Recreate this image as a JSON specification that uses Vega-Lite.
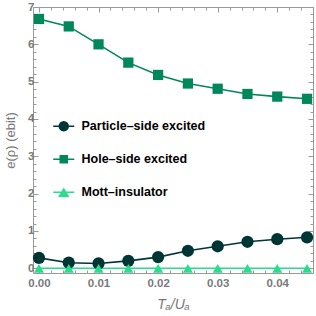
{
  "$schema": "https://vega.github.io/schema/vega-lite/v6.json",
  "width": 280,
  "height": 266,
  "autosize": {"type": "none"},
  "padding": {"left": 33, "top": 7, "right": 3, "bottom": 43},
  "background": "white",
  "config": {
    "view": {"stroke": "#9a9a9a", "strokeWidth": 1},
    "axis": {
      "grid": false,
      "domain": false,
      "tickColor": "#9a9a9a",
      "tickWidth": 1,
      "labelFont": "Liberation Sans",
      "labelFontWeight": "bold",
      "labelFontSize": 11.5,
      "labelColor": "#7a7a7a",
      "titleFont": "Liberation Sans",
      "titleFontWeight": "normal",
      "titleFontSize": 13,
      "titleColor": "#7a7a7a"
    }
  },
  "data": {
    "values": [
      {"series": "Particle–side excited", "x": 0.000, "y": 0.28},
      {"series": "Particle–side excited", "x": 0.005, "y": 0.15},
      {"series": "Particle–side excited", "x": 0.010, "y": 0.13},
      {"series": "Particle–side excited", "x": 0.015, "y": 0.20},
      {"series": "Particle–side excited", "x": 0.020, "y": 0.30},
      {"series": "Particle–side excited", "x": 0.025, "y": 0.47},
      {"series": "Particle–side excited", "x": 0.030, "y": 0.59},
      {"series": "Particle–side excited", "x": 0.035, "y": 0.71},
      {"series": "Particle–side excited", "x": 0.040, "y": 0.78},
      {"series": "Particle–side excited", "x": 0.045, "y": 0.83},
      {"series": "Hole–side excited", "x": 0.000, "y": 6.68},
      {"series": "Hole–side excited", "x": 0.005, "y": 6.48},
      {"series": "Hole–side excited", "x": 0.010, "y": 6.00},
      {"series": "Hole–side excited", "x": 0.015, "y": 5.51},
      {"series": "Hole–side excited", "x": 0.020, "y": 5.18},
      {"series": "Hole–side excited", "x": 0.025, "y": 4.95},
      {"series": "Hole–side excited", "x": 0.030, "y": 4.81},
      {"series": "Hole–side excited", "x": 0.035, "y": 4.67},
      {"series": "Hole–side excited", "x": 0.040, "y": 4.60},
      {"series": "Hole–side excited", "x": 0.045, "y": 4.54},
      {"series": "Mott–insulator", "x": 0.000, "y": 0},
      {"series": "Mott–insulator", "x": 0.005, "y": 0},
      {"series": "Mott–insulator", "x": 0.010, "y": 0},
      {"series": "Mott–insulator", "x": 0.015, "y": 0},
      {"series": "Mott–insulator", "x": 0.020, "y": 0},
      {"series": "Mott–insulator", "x": 0.025, "y": 0},
      {"series": "Mott–insulator", "x": 0.030, "y": 0},
      {"series": "Mott–insulator", "x": 0.035, "y": 0},
      {"series": "Mott–insulator", "x": 0.040, "y": 0},
      {"series": "Mott–insulator", "x": 0.045, "y": 0}
    ]
  },
  "resolve": {"axis": {"x": "independent", "y": "independent"}},
  "layer": [
    {
      "mark": {"type": "point", "filled": true, "opacity": 0, "size": 100},
      "encoding": {
        "x": {"field": "x", "type": "quantitative", "axis": null, "scale": {"domain": [-0.001, 0.046], "nice": false, "zero": false}},
        "y": {"field": "y", "type": "quantitative", "axis": null, "scale": {"domain": [-0.126, 7], "nice": false, "zero": false}},
        "color": {
          "field": "series", "type": "nominal",
          "scale": {"domain": ["Particle–side excited", "Hole–side excited", "Mott–insulator"], "range": ["#003535", "#00875a", "#2bdc8c"]},
          "legend": {
            "orient": "none",
            "legendX": 24.5,
            "legendY": 113,
            "title": null,
            "padding": 0,
            "rowPadding": 20,
            "symbolSize": 100,
            "symbolStrokeWidth": 0,
            "symbolOpacity": 1,
            "labelOffset": 11.5,
            "labelFont": "Liberation Sans",
            "labelFontWeight": "bold",
            "labelFontSize": 12.5,
            "labelColor": "#000000",
            "labelLimit": 300
          }
        },
        "shape": {
          "field": "series", "type": "nominal",
          "scale": {
            "domain": ["Particle–side excited", "Hole–side excited", "Mott–insulator"],
            "range": [
              "M-2.1,-0.17 L2.1,-0.17 L2.1,0.17 L-2.1,0.17 Z M1.05,0 L0.97,0.4018 L0.7425,0.7425 L0.4018,0.97 L0,1.05 L-0.4018,0.97 L-0.7425,0.7425 L-0.97,0.4018 L-1.05,0 L-0.97,-0.4018 L-0.7425,-0.7425 L-0.4018,-0.97 L0,-1.05 L0.4018,-0.97 L0.7425,-0.7425 L0.97,-0.4018 Z",
              "M-2.1,-0.17 L2.1,-0.17 L2.1,0.17 L-2.1,0.17 Z M-0.85,-0.85 L0.85,-0.85 L0.85,0.85 L-0.85,0.85 Z",
              "M-2.1,-0.17 L2.1,-0.17 L2.1,0.17 L-2.1,0.17 Z M0,-0.95 L1.15,0.95 L-1.15,0.95 Z"
            ]
          },
          "legend": {
            "orient": "none",
            "legendX": 24.5,
            "legendY": 113,
            "title": null,
            "padding": 0,
            "rowPadding": 20,
            "symbolSize": 100,
            "symbolStrokeWidth": 0,
            "symbolOpacity": 1,
            "labelOffset": 11.5,
            "labelFont": "Liberation Sans",
            "labelFontWeight": "bold",
            "labelFontSize": 12.5,
            "labelColor": "#000000",
            "labelLimit": 300
          }
        }
      }
    },
    {
      "mark": {"type": "line", "strokeWidth": 1.6},
      "encoding": {
        "x": {
          "field": "x", "type": "quantitative",
          "axis": {
            "orient": "bottom",
            "values": [0, 0.002, 0.004, 0.006, 0.008, 0.01, 0.012, 0.014, 0.016, 0.018, 0.02, 0.022, 0.024, 0.026, 0.028, 0.03, 0.032, 0.034, 0.036, 0.038, 0.04, 0.042, 0.044, 0.046],
            "labelExpr": "abs(datum.value*100 - round(datum.value*100)) < 1e-6 ? format(datum.value, '.2f') : ''",
            "tickSize": {"condition": {"test": "abs(datum.value*100 - round(datum.value*100)) < 1e-6", "value": -5}, "value": -3},
            "labelPadding": 9,
            "title": "Tₐ/Uₐ",
            "titleFontStyle": "italic",
            "titleFontSize": 14,
            "titlePadding": 9
          }
        },
        "y": {
          "field": "y", "type": "quantitative",
          "axis": {
            "orient": "left",
            "values": [0, 0.2, 0.4, 0.6, 0.8, 1, 1.2, 1.4, 1.6, 1.8, 2, 2.2, 2.4, 2.6, 2.8, 3, 3.2, 3.4, 3.6, 3.8, 4, 4.2, 4.4, 4.6, 4.8, 5, 5.2, 5.4, 5.6, 5.8, 6, 6.2, 6.4, 6.6, 6.8, 7],
            "labelExpr": "abs(datum.value - round(datum.value)) < 1e-6 ? format(datum.value, 'd') : ''",
            "tickSize": {"condition": {"test": "abs(datum.value - round(datum.value)) < 1e-6", "value": -5}, "value": -3},
            "labelPadding": 4,
            "title": "e(ρ) (ebit)",
            "titlePadding": 10
          }
        },
        "color": {"field": "series", "type": "nominal", "legend": null}
      }
    },
    {
      "transform": [{"filter": "datum.series == 'Particle–side excited'"}],
      "mark": {"type": "point", "shape": "circle", "filled": true, "opacity": 1, "size": 150},
      "encoding": {
        "x": {
          "field": "x", "type": "quantitative",
          "axis": {
            "orient": "top",
            "values": [0, 0.002, 0.004, 0.006, 0.008, 0.01, 0.012, 0.014, 0.016, 0.018, 0.02, 0.022, 0.024, 0.026, 0.028, 0.03, 0.032, 0.034, 0.036, 0.038, 0.04, 0.042, 0.044, 0.046],
            "labels": false,
            "title": null,
            "tickSize": {"condition": {"test": "abs(datum.value*100 - round(datum.value*100)) < 1e-6", "value": -5}, "value": -3}
          }
        },
        "y": {
          "field": "y", "type": "quantitative",
          "axis": {
            "orient": "right",
            "values": [0, 0.2, 0.4, 0.6, 0.8, 1, 1.2, 1.4, 1.6, 1.8, 2, 2.2, 2.4, 2.6, 2.8, 3, 3.2, 3.4, 3.6, 3.8, 4, 4.2, 4.4, 4.6, 4.8, 5, 5.2, 5.4, 5.6, 5.8, 6, 6.2, 6.4, 6.6, 6.8, 7],
            "labels": false,
            "title": null,
            "tickSize": {"condition": {"test": "abs(datum.value - round(datum.value)) < 1e-6", "value": -5}, "value": -3}
          }
        },
        "color": {"field": "series", "type": "nominal", "legend": null}
      }
    },
    {
      "transform": [{"filter": "datum.series == 'Hole–side excited'"}],
      "mark": {"type": "point", "shape": "square", "filled": true, "opacity": 1, "size": 105},
      "encoding": {
        "x": {"field": "x", "type": "quantitative", "axis": null},
        "y": {"field": "y", "type": "quantitative", "axis": null},
        "color": {"field": "series", "type": "nominal", "legend": null}
      }
    },
    {
      "transform": [{"filter": "datum.series == 'Mott–insulator'"}],
      "mark": {"type": "point", "shape": "triangle-up", "filled": true, "opacity": 1, "size": 100},
      "encoding": {
        "x": {"field": "x", "type": "quantitative", "axis": null},
        "y": {"field": "y", "type": "quantitative", "axis": null},
        "color": {"field": "series", "type": "nominal", "legend": null}
      }
    }
  ]
}
